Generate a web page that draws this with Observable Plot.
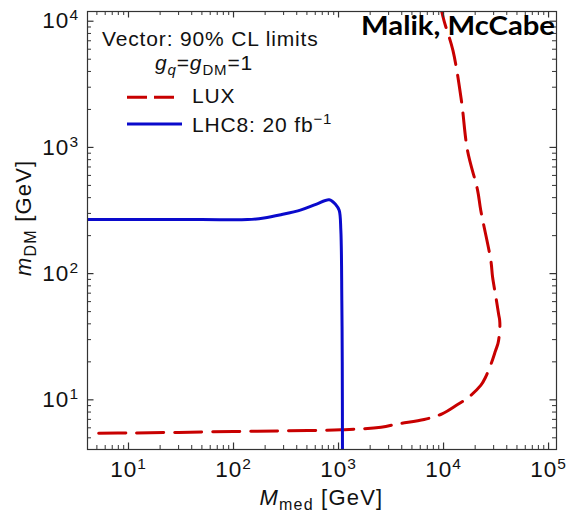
<!DOCTYPE html>
<html><head><meta charset="utf-8">
<script src="https://cdn.jsdelivr.net/npm/d3@7"></script>
<script src="https://cdn.jsdelivr.net/npm/@observablehq/plot@0.6"></script>
<style>html,body{margin:0;padding:0;background:#fff;}</style>
</head><body><div id="chart"></div>
<script>
// LUX limit (red dashed): mediator mass [GeV] and DM mass [GeV]
const luxMmed = [5.2, 10, 30, 100, 300, 1050, 2540, 3730, 6540, 9680, 13600, 17100, 22600, 25100, 28500, 31300, 33000, 34000, 34400, 34200, 33400, 31500, 29300, 28200, 22600, 21100, 16900, 14800, 12300, 10100, 9300];
const luxMdm  = [5.43, 5.46, 5.52, 5.61, 5.68, 5.78, 6.07, 6.46, 6.98, 7.74, 9.18, 10.4, 13.0, 15.1, 19.5, 24.6, 28, 33, 38, 43, 48, 65.3, 94, 127, 318, 457, 948, 2340, 5840, 10100, 13500];
// LHC8 20 fb^-1 limit (blue solid)
const lhcMmed = [4, 10, 50, 136, 195, 283, 440, 610, 815, 942, 1014, 1052, 1075, 1085, 1090];
const lhcMdm  = [268, 268, 268, 268, 276, 293, 320, 354, 385, 352, 318, 220, 61, 20, 4];

const xTickValues = [10, 100, 1000, 10000, 100000];
const xTickLabels = ["10^1", "10^2", "10^3", "10^4", "10^5"];
const yTickValues = [10, 100, 1000, 10000];
const yTickLabels = ["10^1", "10^2", "10^3", "10^4"];
const seriesNames = ["LUX", "LHC8: 20 fb"];
const legendTitle = "Vector: 90% CL limits";
const authors = "Malik, McCabe";

const lux = luxMmed.map((x, i) => ({x, y: luxMdm[i]}));
const lhc = lhcMmed.map((x, i) => ({x, y: lhcMdm[i]}));

const W = 568, H = 515, mL = 87, mR = 12, mT = 11, mB = 66;
const plotW = W - mL - mR, plotH = H - mT - mB;
const xDomain = [4.07, 1.19e5], yDomain = [4.04, 11940];
const FONT = "'Liberation Sans', Arial, Helvetica, sans-serif";
const RED = "#c80000", BLUE = "#0a0acc", INK = "#111", AXIS = "#333";

const minorOf = (dom, majors) => d3.scaleLog().domain(dom).ticks()
  .filter(v => v >= dom[0] && v <= dom[1] && !majors.includes(v));
const xMinor = minorOf(xDomain, xTickValues);
const yMinor = minorOf(yDomain, yTickValues);
const MAJ = 6.5, MIN = 4;

function rich(parent, parts, attrs) {
  const t = parent.append("text").attr("text-anchor", "start");
  for (const k in attrs) t.attr(k, attrs[k]);
  let shift = 0;
  for (const p of parts) {
    const target = p.sub ? 5 : p.sup ? -8 : 0;
    const ts = t.append("tspan").text(p.t);
    if (target !== shift) ts.attr("dy", target - shift);
    shift = target;
    if (p.sub || p.sup) ts.attr("font-size", p.size || 15);
    if (p.i) ts.attr("font-style", "italic");
  }
  return t;
}

function annotations() {
  const g = d3.create("svg:g").attr("font-family", FONT).attr("fill", INK)
    .attr("font-size", 21).attr("letter-spacing", "0.85px").attr("text-anchor", "start");
  const L = mL, T = mT;
  // legend
  g.append("text").attr("x", L + 15).attr("y", T + 35).text(legendTitle);
  rich(g, [{t: "g", i: true}, {t: "q", i: true, sub: true}, {t: "="}, {t: "g", i: true},
           {t: "DM", sub: true}, {t: "=1"}], {x: L + 68, y: T + 59});
  g.append("line").attr("x1", L + 40).attr("x2", L + 87).attr("y1", T + 86.3).attr("y2", T + 86.3)
    .attr("stroke", RED).attr("stroke-width", 3).attr("stroke-dasharray", "20,7");
  g.append("text").attr("x", L + 105).attr("y", T + 92.3).text(seriesNames[0]);
  g.append("line").attr("x1", L + 40).attr("x2", L + 95).attr("y1", T + 113).attr("y2", T + 113)
    .attr("stroke", BLUE).attr("stroke-width", 3);
  rich(g, [{t: seriesNames[1]}, {t: "\u22121", sup: true}], {x: L + 105, y: T + 120.7});
  // axis labels
  rich(g, [{t: "M", i: true}, {t: "med", sub: true, size: 16}, {t: " [GeV]"}],
       {x: 259.5, y: 505, "font-size": 22, "letter-spacing": "1.2px"});
  rich(g, [{t: "m", i: true}, {t: "DM", sub: true, size: 16}, {t: " [GeV]"}],
       {transform: "translate(31,276) rotate(-90)", "font-size": 22, "letter-spacing": "1.2px"});
  // authors
  g.append("text").attr("x", 361).attr("y", 35)
    .attr("font-family", "Lato, 'Open Sans', sans-serif").attr("font-weight", 700)
    .attr("font-size", 26).attr("letter-spacing", "0px").attr("fill", "#000")
    .attr("textLength", 194).attr("lengthAdjust", "spacingAndGlyphs").text(authors);
  return g.node();
}

const chart = Plot.plot({
  width: W, height: H,
  marginLeft: mL, marginRight: mR, marginTop: mT, marginBottom: mB,
  style: {fontFamily: FONT, fontSize: "22.5px", background: "#fff", color: INK, overflow: "visible"},
  x: {type: "log", domain: xDomain, ticks: xTickValues, tickFormat: d => xTickLabels[xTickValues.indexOf(d)],
      tickSize: 0, tickPadding: 12, label: null},
  y: {type: "log", domain: yDomain, ticks: yTickValues, tickFormat: d => yTickLabels[yTickValues.indexOf(d)],
      tickSize: 0, tickPadding: 8.5, label: null},
  marks: [
    Plot.line(lux, {x: "x", y: "y", stroke: RED, strokeWidth: 3, strokeDasharray: "27,11", curve: "catmull-rom", clip: true}),
    Plot.line(lhc, {x: "x", y: "y", stroke: BLUE, strokeWidth: 3, curve: "catmull-rom", clip: true}),
    Plot.tickX(xMinor, {x: d => d, insetTop: plotH - MIN, stroke: AXIS, strokeWidth: 1}),
    Plot.tickX(xMinor, {x: d => d, insetBottom: plotH - MIN, stroke: AXIS, strokeWidth: 1}),
    Plot.tickX(xTickValues, {x: d => d, insetTop: plotH - MAJ, stroke: AXIS, strokeWidth: 1.2}),
    Plot.tickX(xTickValues, {x: d => d, insetBottom: plotH - MAJ, stroke: AXIS, strokeWidth: 1.2}),
    Plot.tickY(yMinor, {y: d => d, insetRight: plotW - MIN, stroke: AXIS, strokeWidth: 1}),
    Plot.tickY(yMinor, {y: d => d, insetLeft: plotW - MIN, stroke: AXIS, strokeWidth: 1}),
    Plot.tickY(yTickValues, {y: d => d, insetRight: plotW - MAJ, stroke: AXIS, strokeWidth: 1.2}),
    Plot.tickY(yTickValues, {y: d => d, insetLeft: plotW - MAJ, stroke: AXIS, strokeWidth: 1.2}),
    Plot.frame({stroke: AXIS, strokeWidth: 1.2}),
    annotations
  ]
});

// superscript exponents on tick labels
d3.select(chart).selectAll('g[aria-label="x-axis tick label"] text, g[aria-label="y-axis tick label"] text')
  .each(function() {
    const t = d3.select(this);
    const [base, exp] = t.text().split("^");
    t.text(null).attr("letter-spacing", "1px");
    t.append("tspan").text(base);
    t.append("tspan").attr("dy", -8).attr("font-size", 15.5).text(exp);
  });

document.getElementById("chart").appendChild(chart);
</script>
</body></html>
